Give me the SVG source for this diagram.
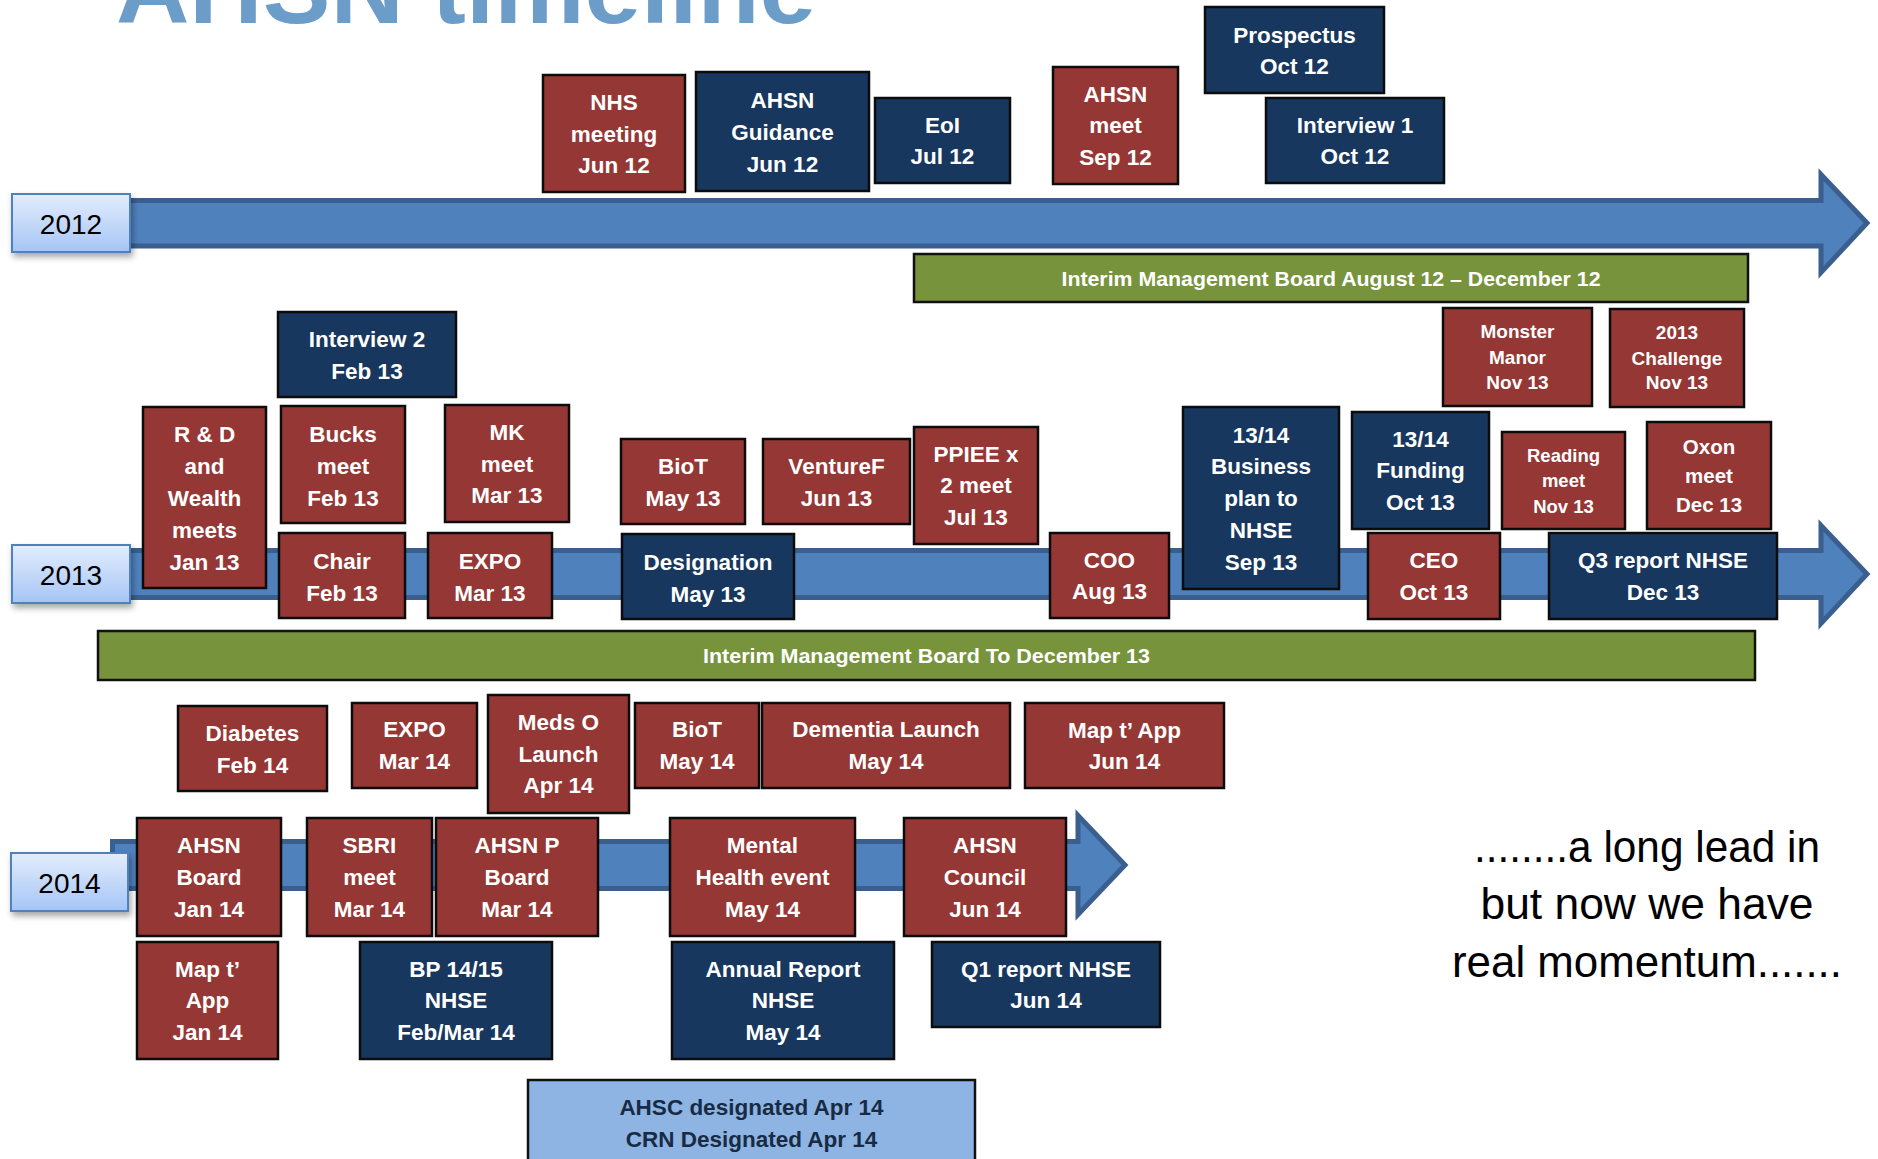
<svg xmlns="http://www.w3.org/2000/svg" width="1878" height="1159" viewBox="0 0 1878 1159">
<defs>
<linearGradient id="yearGrad" x1="0" y1="0" x2="0" y2="1">
<stop offset="0" stop-color="#E3EDFC"/>
<stop offset="1" stop-color="#A5C5F6"/>
</linearGradient>
<filter id="shadow" x="-20%" y="-20%" width="150%" height="160%">
<feDropShadow dx="2" dy="4" stdDeviation="3" flood-color="#000" flood-opacity="0.35"/>
</filter>
</defs>
<style>
.r{fill:#953735;stroke:#0c0c0c;stroke-width:2.5}
.n{fill:#17375E;stroke:#0c0c0c;stroke-width:2.5}
.g{fill:#77933C;stroke:#111;stroke-width:2.5}
.lb{fill:#8EB4E3;stroke:#111;stroke-width:2.5}
.arrow{fill:#4F81BD;stroke:#3A5F8F;stroke-width:5;stroke-linejoin:miter}
.year{fill:url(#yearGrad);stroke:#4F81BD;stroke-width:2;filter:url(#shadow)}
.yt{font-family:'Liberation Sans',Arial,sans-serif;font-size:28px;fill:#000;text-anchor:middle}
.t{font-family:'Liberation Sans',Arial,sans-serif;font-weight:bold;font-size:22.5px;fill:#fff;text-anchor:middle}
.s19{font-size:19px}
.s185{font-size:18.5px}
.s205{font-size:20.5px}
.gt{font-family:'Liberation Sans',Arial,sans-serif;font-weight:bold;font-size:21px;fill:#fff;text-anchor:middle}
.dk{fill:#172B45}
.big{font-family:'Liberation Sans',Arial,sans-serif;font-size:44px;fill:#000;text-anchor:middle}
.title{font-family:'Liberation Sans',Arial,sans-serif;font-weight:bold;font-size:100px;fill:#6C9CC8}
</style>
<rect width="1878" height="1159" fill="#fff"/>
<text class="title" x="116" y="23" textLength="700" lengthAdjust="spacingAndGlyphs">AHSN timeline</text>

<g id="connectors">
<polygon class="arrow" points="122,200.5 1821,200.5 1821,174.5 1867,223 1821,272.5 1821,246 122,246"/>
<polygon class="arrow" points="122,550.5 1821,550.5 1821,525.5 1867,574 1821,623.5 1821,597.5 122,597.5"/>
<polygon class="arrow" points="112.5,841.5 1078,841.5 1078,815.5 1125,865 1078,914.5 1078,888.5 112.5,888.5"/>
</g>

<g id="year-2012"><rect class="year" x="12" y="194" width="118" height="58"/><text class="yt" x="71" y="234">2012</text></g>
<g id="year-2013"><rect class="year" x="12" y="545" width="118" height="58"/><text class="yt" x="71" y="585">2013</text></g>
<g id="year-2014"><rect class="year" x="11" y="853" width="117" height="58"/><text class="yt" x="69.5" y="893">2014</text></g>

<!-- 2012 -->
<g id="nhs-meeting-jun12"><rect class="r" x="543" y="75" width="142" height="117"/><text class="t"><tspan x="614" y="110">NHS</tspan><tspan x="614" y="142">meeting</tspan><tspan x="614" y="173">Jun 12</tspan></text></g>
<g id="ahsn-guidance-jun12"><rect class="n" x="696" y="72" width="173" height="119"/><text class="t"><tspan x="782.5" y="108">AHSN</tspan><tspan x="782.5" y="140">Guidance</tspan><tspan x="782.5" y="172">Jun 12</tspan></text></g>
<g id="eoi-jul12"><rect class="n" x="875" y="98" width="135" height="85"/><text class="t"><tspan x="942.5" y="133">EoI</tspan><tspan x="942.5" y="164">Jul 12</tspan></text></g>
<g id="ahsn-meet-sep12"><rect class="r" x="1053" y="67" width="125" height="117"/><text class="t"><tspan x="1115.5" y="102">AHSN</tspan><tspan x="1115.5" y="133">meet</tspan><tspan x="1115.5" y="165">Sep 12</tspan></text></g>
<g id="prospectus-oct12"><rect class="n" x="1205" y="7" width="179" height="86"/><text class="t"><tspan x="1294.5" y="43">Prospectus</tspan><tspan x="1294.5" y="74">Oct 12</tspan></text></g>
<g id="interview1-oct12"><rect class="n" x="1266" y="98" width="178" height="85"/><text class="t"><tspan x="1355" y="133">Interview 1</tspan><tspan x="1355" y="164">Oct 12</tspan></text></g>
<g id="imb-2012"><rect class="g" x="914" y="254" width="834" height="48"/><text class="gt" x="1331" y="286" textLength="539" lengthAdjust="spacingAndGlyphs">Interim Management Board August 12 – December 12</text></g>

<!-- 2013 -->
<g id="interview2-feb13"><rect class="n" x="278" y="312" width="178" height="85"/><text class="t"><tspan x="367" y="347">Interview 2</tspan><tspan x="367" y="379">Feb 13</tspan></text></g>
<g id="rd-wealth-jan13"><rect class="r" x="143" y="407" width="123" height="181"/><text class="t"><tspan x="204.5" y="442">R &amp; D</tspan><tspan x="204.5" y="474">and</tspan><tspan x="204.5" y="506">Wealth</tspan><tspan x="204.5" y="538">meets</tspan><tspan x="204.5" y="570">Jan 13</tspan></text></g>
<g id="bucks-meet-feb13"><rect class="r" x="281" y="406" width="124" height="117"/><text class="t"><tspan x="343" y="442">Bucks</tspan><tspan x="343" y="474">meet</tspan><tspan x="343" y="506">Feb 13</tspan></text></g>
<g id="mk-meet-mar13"><rect class="r" x="445" y="405" width="124" height="117"/><text class="t"><tspan x="507" y="440">MK</tspan><tspan x="507" y="472">meet</tspan><tspan x="507" y="503">Mar 13</tspan></text></g>
<g id="chair-feb13"><rect class="r" x="279" y="533" width="126" height="85"/><text class="t"><tspan x="342" y="569">Chair</tspan><tspan x="342" y="601">Feb 13</tspan></text></g>
<g id="expo-mar13"><rect class="r" x="428" y="533" width="124" height="85"/><text class="t"><tspan x="490" y="569">EXPO</tspan><tspan x="490" y="601">Mar 13</tspan></text></g>
<g id="biot-may13"><rect class="r" x="621" y="439" width="124" height="85"/><text class="t"><tspan x="683" y="474">BioT</tspan><tspan x="683" y="506">May 13</tspan></text></g>
<g id="venturef-jun13"><rect class="r" x="763" y="439" width="147" height="85"/><text class="t"><tspan x="836.5" y="474">VentureF</tspan><tspan x="836.5" y="506">Jun 13</tspan></text></g>
<g id="designation-may13"><rect class="n" x="622" y="534" width="172" height="85"/><text class="t"><tspan x="708" y="570">Designation</tspan><tspan x="708" y="602">May 13</tspan></text></g>
<g id="ppiee-jul13"><rect class="r" x="914" y="427" width="124" height="117"/><text class="t"><tspan x="976" y="462">PPIEE x</tspan><tspan x="976" y="493">2 meet</tspan><tspan x="976" y="525">Jul 13</tspan></text></g>
<g id="coo-aug13"><rect class="r" x="1050" y="533" width="119" height="85"/><text class="t"><tspan x="1109.5" y="568">COO</tspan><tspan x="1109.5" y="599">Aug 13</tspan></text></g>
<g id="bplan-sep13"><rect class="n" x="1183" y="407" width="156" height="182"/><text class="t"><tspan x="1261" y="443">13/14</tspan><tspan x="1261" y="474">Business</tspan><tspan x="1261" y="506">plan to</tspan><tspan x="1261" y="538">NHSE</tspan><tspan x="1261" y="570">Sep 13</tspan></text></g>
<g id="funding-oct13"><rect class="n" x="1352" y="412" width="137" height="117"/><text class="t"><tspan x="1420.5" y="447">13/14</tspan><tspan x="1420.5" y="478">Funding</tspan><tspan x="1420.5" y="510">Oct 13</tspan></text></g>
<g id="ceo-oct13"><rect class="r" x="1368" y="533" width="132" height="86"/><text class="t"><tspan x="1434" y="568">CEO</tspan><tspan x="1434" y="600">Oct 13</tspan></text></g>
<g id="monster-manor-nov13"><rect class="r" x="1443" y="308" width="149" height="98"/><text class="t s19"><tspan x="1517.5" y="338">Monster</tspan><tspan x="1517.5" y="364">Manor</tspan><tspan x="1517.5" y="389">Nov 13</tspan></text></g>
<g id="challenge-nov13"><rect class="r" x="1610" y="309" width="134" height="98"/><text class="t s19"><tspan x="1677" y="339">2013</tspan><tspan x="1677" y="365">Challenge</tspan><tspan x="1677" y="389">Nov 13</tspan></text></g>
<g id="reading-nov13"><rect class="r" x="1502" y="432" width="123" height="97"/><text class="t s185"><tspan x="1563.5" y="462">Reading</tspan><tspan x="1563.5" y="487">meet</tspan><tspan x="1563.5" y="513">Nov 13</tspan></text></g>
<g id="oxon-dec13"><rect class="r" x="1647" y="422" width="124" height="107"/><text class="t s205"><tspan x="1709" y="454">Oxon</tspan><tspan x="1709" y="483">meet</tspan><tspan x="1709" y="512">Dec 13</tspan></text></g>
<g id="q3-dec13"><rect class="n" x="1549" y="533" width="228" height="86"/><text class="t"><tspan x="1663" y="568">Q3 report NHSE</tspan><tspan x="1663" y="600">Dec 13</tspan></text></g>
<g id="imb-2013"><rect class="g" x="98" y="631" width="1657" height="49"/><text class="gt" x="926.5" y="663" textLength="447" lengthAdjust="spacingAndGlyphs">Interim Management Board To December 13</text></g>

<!-- 2014 -->
<g id="diabetes-feb14"><rect class="r" x="178" y="706" width="149" height="85"/><text class="t"><tspan x="252.5" y="741">Diabetes</tspan><tspan x="252.5" y="773">Feb 14</tspan></text></g>
<g id="expo-mar14"><rect class="r" x="352" y="703" width="125" height="85"/><text class="t"><tspan x="414.5" y="737">EXPO</tspan><tspan x="414.5" y="769">Mar 14</tspan></text></g>
<g id="medso-apr14"><rect class="r" x="488" y="695" width="141" height="118"/><text class="t"><tspan x="558.5" y="730">Meds O</tspan><tspan x="558.5" y="762">Launch</tspan><tspan x="558.5" y="793">Apr 14</tspan></text></g>
<g id="biot-may14"><rect class="r" x="635" y="703" width="124" height="85"/><text class="t"><tspan x="697" y="737">BioT</tspan><tspan x="697" y="769">May 14</tspan></text></g>
<g id="dementia-may14"><rect class="r" x="762" y="703" width="248" height="85"/><text class="t"><tspan x="886" y="737">Dementia Launch</tspan><tspan x="886" y="769">May 14</tspan></text></g>
<g id="maptapp-jun14"><rect class="r" x="1025" y="703" width="199" height="85"/><text class="t"><tspan x="1124.5" y="738">Map t’ App</tspan><tspan x="1124.5" y="769">Jun 14</tspan></text></g>
<g id="ahsn-board-jan14"><rect class="r" x="137" y="818" width="144" height="118"/><text class="t"><tspan x="209" y="853">AHSN</tspan><tspan x="209" y="885">Board</tspan><tspan x="209" y="917">Jan 14</tspan></text></g>
<g id="sbri-mar14"><rect class="r" x="307" y="818" width="125" height="118"/><text class="t"><tspan x="369.5" y="853">SBRI</tspan><tspan x="369.5" y="885">meet</tspan><tspan x="369.5" y="917">Mar 14</tspan></text></g>
<g id="ahsnp-board-mar14"><rect class="r" x="436" y="818" width="162" height="118"/><text class="t"><tspan x="517" y="853">AHSN P</tspan><tspan x="517" y="885">Board</tspan><tspan x="517" y="917">Mar 14</tspan></text></g>
<g id="mental-health-may14"><rect class="r" x="670" y="818" width="185" height="118"/><text class="t"><tspan x="762.5" y="853">Mental</tspan><tspan x="762.5" y="885">Health event</tspan><tspan x="762.5" y="917">May 14</tspan></text></g>
<g id="ahsn-council-jun14"><rect class="r" x="904" y="818" width="162" height="118"/><text class="t"><tspan x="985" y="853">AHSN</tspan><tspan x="985" y="885">Council</tspan><tspan x="985" y="917">Jun 14</tspan></text></g>
<g id="maptapp-jan14"><rect class="r" x="137" y="942" width="141" height="117"/><text class="t"><tspan x="207.5" y="977">Map t’</tspan><tspan x="207.5" y="1008">App</tspan><tspan x="207.5" y="1040">Jan 14</tspan></text></g>
<g id="bp1415-febmar14"><rect class="n" x="360" y="942" width="192" height="117"/><text class="t"><tspan x="456" y="977">BP 14/15</tspan><tspan x="456" y="1008">NHSE</tspan><tspan x="456" y="1040">Feb/Mar 14</tspan></text></g>
<g id="annual-report-may14"><rect class="n" x="672" y="942" width="222" height="117"/><text class="t"><tspan x="783" y="977">Annual Report</tspan><tspan x="783" y="1008">NHSE</tspan><tspan x="783" y="1040">May 14</tspan></text></g>
<g id="q1-jun14"><rect class="n" x="932" y="942" width="228" height="85"/><text class="t"><tspan x="1046" y="977">Q1 report NHSE</tspan><tspan x="1046" y="1008">Jun 14</tspan></text></g>
<g id="ahsc-crn-apr14"><rect class="lb" x="528" y="1080" width="447" height="100"/><text class="t dk"><tspan x="751.5" y="1115">AHSC designated Apr 14</tspan><tspan x="751.5" y="1147">CRN Designated Apr 14</tspan></text></g>

<g id="summary-text">
<text class="big" x="1647" y="862" textLength="346" lengthAdjust="spacingAndGlyphs">........a long lead in</text>
<text class="big" x="1647" y="919" textLength="333" lengthAdjust="spacingAndGlyphs">but now we have</text>
<text class="big" x="1647" y="977" textLength="390" lengthAdjust="spacingAndGlyphs">real momentum.......</text>
</g>
</svg>
